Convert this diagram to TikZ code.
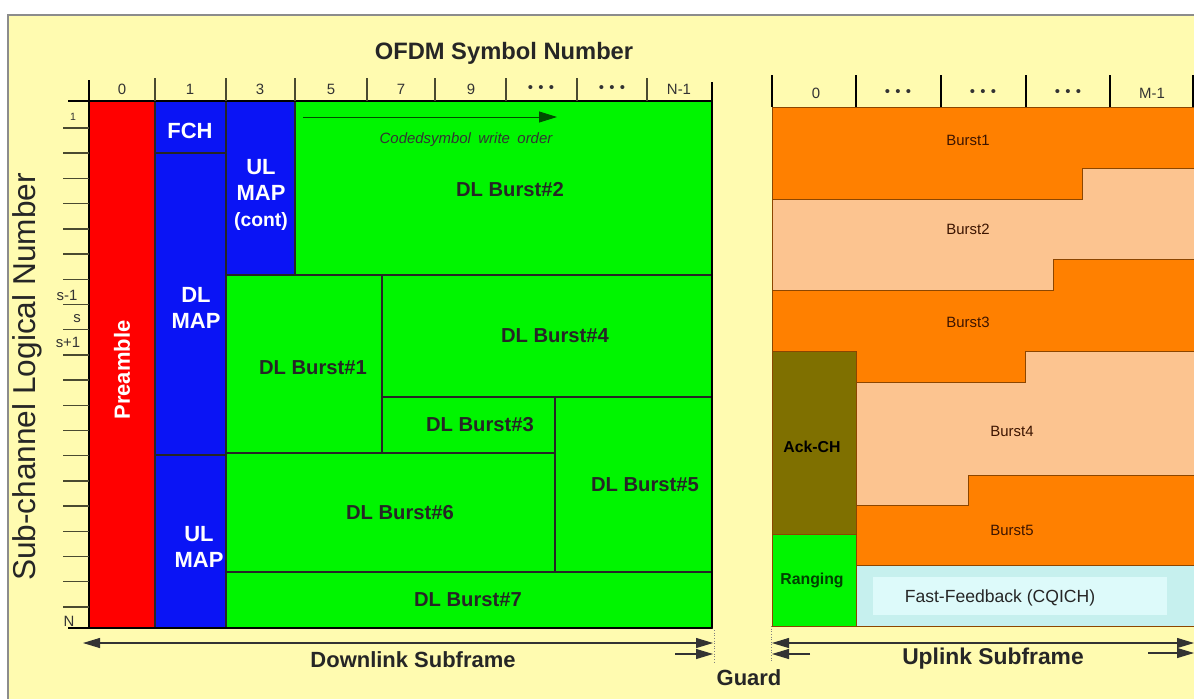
\documentclass[tikz,border=0pt]{standalone}
\usepackage{fontspec}
\setmainfont{Liberation Sans}
\usetikzlibrary{arrows.meta}
\definecolor{bgyel}   {HTML}{FFFBB0}
\definecolor{preRed}  {HTML}{FF0000}
\definecolor{mapBlue} {HTML}{0A14F5}
\definecolor{burstGrn}{HTML}{00F500}
\definecolor{ulOrg}   {HTML}{FF8000}
\definecolor{ulPch}   {HTML}{FCC490}
\definecolor{ackOlv}  {HTML}{7F7000}
\definecolor{fbCyan}  {HTML}{C6F0EE}
\definecolor{fbCyanL} {HTML}{DDFAFA}
\definecolor{txtBrn}  {HTML}{3C1400}
\definecolor{tkGrey}  {HTML}{4A4A30}
\newcommand{\ofdmdots}{•\hspace{3pt}•\hspace{3pt}•}
\tikzset{
  blk/.style  ={draw=black!85, line width=0.7pt},
  ublk/.style ={draw=ulOrg!55!black, line width=0.4pt},
  wlab/.style ={text=white, font=\bfseries\fontsize{12.5}{15}\selectfont,
                align=center, inner sep=0pt},
  glab/.style ={text=black!85, font=\bfseries\fontsize{11.5}{13}\selectfont,
                inner sep=0pt},
  ulab/.style ={text=txtBrn, font=\fontsize{8.5}{10}\selectfont, inner sep=0pt},
  tkl/.style  ={text=black!80, font=\fontsize{8.5}{10}\selectfont, inner sep=0pt},
  ttl/.style  ={text=black!85, font=\bfseries\fontsize{13}{15}\selectfont,
                inner sep=0pt},
  ax/.style   ={draw=black, line width=1.6pt},
  tk/.style   ={draw=tkGrey, line width=0.8pt},
  dimar/.style={{Triangle[length=3.4mm,width=2mm]}-{Triangle[length=3.4mm,width=2mm]},
                draw=black!80, line width=0.6pt},
  gar/.style  ={-{Triangle[length=3.4mm,width=2mm]}, draw=black!80, line width=0.6pt},
  woar/.style ={-{Triangle[length=3.6mm,width=2.2mm]}, draw=black!70!green, line width=0.5pt},
  gd/.style   ={draw=black!50, densely dotted, line width=0.5pt}
}
\begin{document}
\begin{tikzpicture}[x=0.2mm, y=-0.2mm]
\useasboundingbox (0,0) rectangle (1194,698);
\fill[white] (0,0) rectangle (1194,698);
\fill[bgyel] (8,15) rectangle (1200,700);
\draw[black!45, line width=0.6pt] (8,700) -- (8,15) -- (1200,15);

% downlink subframe
\draw[blk, fill=preRed]   (89,101)  rectangle (155,628);
\draw[blk, fill=mapBlue]  (155,101) rectangle (226,153);
\draw[blk, fill=mapBlue]  (155,153) rectangle (226,455);
\draw[blk, fill=mapBlue]  (155,455) rectangle (226,628);
\draw[blk, fill=mapBlue]  (226,101) rectangle (295,275);
\draw[blk, fill=burstGrn] (295,101) rectangle (712,275);
\draw[blk, fill=burstGrn] (226,275) rectangle (382,453);
\draw[blk, fill=burstGrn] (382,275) rectangle (712,397);
\draw[blk, fill=burstGrn] (382,397) rectangle (555,453);
\draw[blk, fill=burstGrn] (555,397) rectangle (712,572);
\draw[blk, fill=burstGrn] (226,453) rectangle (555,572);
\draw[blk, fill=burstGrn] (226,572) rectangle (712,628);

\node[wlab, rotate=90] (pre) at (122,370) {Preamble};
\node[wlab] (fch)    at (190,131) {FCH};
\node[wlab] (dlmap)  at (196,308) {DL\\MAP};
\node[wlab] (ulmapc) at (261,195) {UL\\MAP\\{\fontsize{11}{13}\selectfont(cont)}};
\node[wlab] (ulmap)  at (199,547) {UL\\MAP};
\node[glab] (b2) at (510,190) {DL Burst\#2};
\node[glab] (b1) at (313,368) {DL Burst\#1};
\node[glab] (b4) at (555,336) {DL Burst\#4};
\node[glab] (b3) at (480,425) {DL Burst\#3};
\node[glab] (b5) at (645,485) {DL Burst\#5};
\node[glab] (b6) at (400,513) {DL Burst\#6};
\node[glab] (b7) at (468,600) {DL Burst\#7};

\coordinate (wo0) at (303,117);
\coordinate (wo1) at (557,117);
\draw[woar] (wo0) -- (wo1);
\node[font=\itshape\fontsize{8.5}{10}\selectfont, text=black!80, inner sep=0pt]
  (wot) at (466,140) {Codedsymbol\enspace write\enspace order};

% axes
\draw[ax] (68,101) -- (712,101);
\draw[ax] (68,628) -- (712,628);
\draw[ax] (89,80) -- (89,628);
\draw[ax] (712,82) -- (712,628);
\foreach \x in {155,226,295,367,435,506,577,647}
  \draw[tk] (\x,78) -- (\x,101);
\foreach \i in {0,...,19}
  \draw[tk] (63,{128+25.2*\i}) -- (89,{128+25.2*\i});
\foreach \x/\t [count=\n] in {122/0,190/1,260/3,331/5,401/7,471/9,
                              541/\ofdmdots,612/\ofdmdots,679/N-1}
  \node[tkl] (c\n) at (\x,89) {\t};
\node[tkl, font=\fontsize{6}{7}\selectfont] (r1) at (73,117) {1};
\node[tkl] (rs0) at (67,295) {s-1};
\node[tkl] (rs1) at (77,319) {s};
\node[tkl] (rs2) at (68,342) {s+1};
\node[tkl] (rn)  at (69,621) {N};

% uplink subframe
\draw[ublk, fill=ulOrg] (772,107) -- (1200,107) -- (1200,168) -- (1082,168)
  -- (1082,199) -- (772,199) -- cycle;
\draw[ublk, fill=ulPch] (772,199) -- (1082,199) -- (1082,168) -- (1200,168)
  -- (1200,259) -- (1053,259) -- (1053,290) -- (772,290) -- cycle;
\draw[ublk, fill=ulOrg] (772,290) -- (1053,290) -- (1053,259) -- (1200,259)
  -- (1200,351) -- (1025,351) -- (1025,382) -- (856,382) -- (856,351)
  -- (772,351) -- cycle;
\draw[ublk, fill=ulPch] (856,382) -- (1025,382) -- (1025,351) -- (1200,351)
  -- (1200,475) -- (968,475) -- (968,505) -- (856,505) -- cycle;
\draw[ublk, fill=ulOrg] (856,505) -- (968,505) -- (968,475) -- (1200,475)
  -- (1200,565) -- (856,565) -- cycle;
\draw[ublk, fill=ackOlv]   (772,351) rectangle (856,534);
\draw[ublk, fill=burstGrn] (772,534) rectangle (856,626);
\draw[ublk, fill=fbCyan]   (856,565) rectangle (1200,626);
\fill[fbCyanL] (873,577) rectangle (1167,615);

\foreach \x in {772,856,941,1026,1110,1193}
  \draw[ax, line width=1.2pt] (\x,75) -- (\x,107);
\foreach \x/\t [count=\n] in {816/0,898/\ofdmdots,983/\ofdmdots,
                              1068/\ofdmdots,1152/M-1}
  \node[tkl] (m\n) at (\x,93) {\t};

\node[ulab] (u1) at (968,140)  {Burst1};
\node[ulab] (u2) at (968,229)  {Burst2};
\node[ulab] (u3) at (968,322)  {Burst3};
\node[ulab] (u4) at (1012,431) {Burst4};
\node[ulab] (u5) at (1012,530) {Burst5};
\node[ulab, text=black, font=\bfseries\fontsize{9}{11}\selectfont]
  (ack) at (812,447) {Ack-CH};
\node[ulab, text=black!75!green, font=\bfseries\fontsize{9}{11}\selectfont]
  (rng) at (812,580) {Ranging};
\node[text=black!85, font=\fontsize{10}{12}\selectfont, inner sep=0pt]
  (ffb) at (1000,598) {Fast-Feedback (CQICH)};

% frame arrows
\coordinate (dlL) at (83,643);
\coordinate (dlR) at (713,643);
\coordinate (gA)  at (675,654);
\coordinate (gB)  at (713,654);
\coordinate (ulL) at (772,643);
\coordinate (ulR) at (1194,643);
\coordinate (gC)  at (810,654);
\coordinate (gD)  at (772,654);
\coordinate (uA)  at (1148,653);
\coordinate (uB)  at (1194,653);
\draw[dimar] (dlL) -- (dlR);
\draw[gar]   (gA) -- (gB);
\draw[dimar] (ulL) -- (ulR);
\draw[gar]   (gC) -- (gD);
\draw[gar]   (uA) -- (uB);
\draw[gd] (714,630) -- (714,662);
\draw[gd] (771,626) -- (771,662);

\node[ttl, font=\bfseries\fontsize{13.5}{15}\selectfont] (ofdm) at (504,53)
  {OFDM Symbol Number};
\node[ttl, font=\fontsize{18}{20}\selectfont, rotate=90] (subch) at (27,377)
  {Sub-channel Logical Number};
\node[ttl, font=\bfseries\fontsize{12.5}{15}\selectfont] (dlsf) at (413,660)
  {Downlink Subframe};
\node[ttl] (ulsf)  at (993,659) {Uplink Subframe};
\node[ttl, font=\bfseries\fontsize{12.5}{15}\selectfont] (guard) at (749,678)
  {Guard};
\end{tikzpicture}
\end{document}
